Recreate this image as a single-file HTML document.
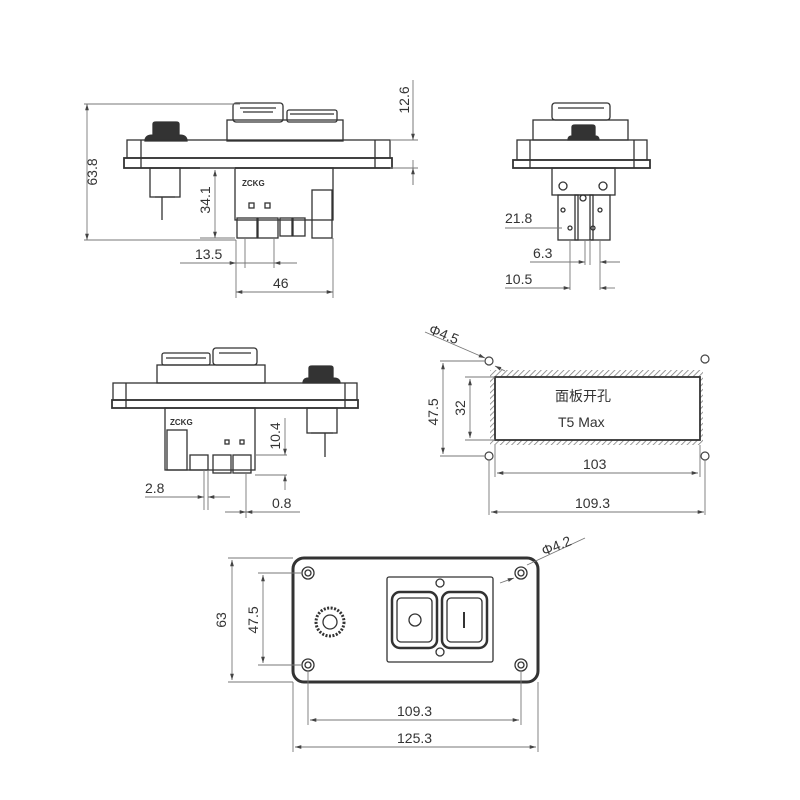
<!DOCTYPE html>
<html><head><meta charset="utf-8"><style>body{margin:0;background:#fff}svg{display:block}text{font-family:"Liberation Sans","Noto Sans CJK SC",sans-serif;fill:#333}</style></head><body>
<svg width="800" height="800" viewBox="0 0 800 800" xmlns="http://www.w3.org/2000/svg">
<defs>
<marker id="a" viewBox="0 0 10 10" refX="10" refY="5" markerWidth="7" markerHeight="7" orient="auto-start-reverse"><path d="M0,2L10,5L0,8z" fill="#444"/></marker>
<pattern id="h" width="4" height="4" patternUnits="userSpaceOnUse" patternTransform="rotate(45)"><line x1="0" y1="0" x2="0" y2="4" stroke="#777" stroke-width="1.5"/></pattern>
</defs>
<g fill="none" stroke="#333" stroke-width="1.3">
<rect x="233" y="103" width="50" height="19" rx="3"/><path d="M240,108h36M243,112h30"/>
<rect x="287" y="110" width="50" height="12" rx="2"/><path d="M290,114h44"/>
<rect x="227" y="120" width="116" height="21"/>
<path d="M145,141q0,-6 8,-6v-11q0,-2 3,-2h20q3,0 3,2v11q8,0 8,6z" fill="#333"/>
<rect x="127" y="140" width="263" height="18"/><rect x="124" y="158" width="268" height="10" stroke-width="1.8"/>
<path d="M141,140v28M375,140v28"/>
<rect x="150" y="168" width="30" height="29"/><path d="M155,197h20M162,197v23"/>
<rect x="235" y="168" width="98" height="52"/>
<rect x="237" y="218" width="20" height="20"/><rect x="258" y="218" width="20" height="20"/><rect x="280" y="218" width="12" height="18"/><rect x="293" y="218" width="12" height="18"/><rect x="312" y="190" width="20" height="48"/>
<rect x="249" y="203" width="5" height="5"/><rect x="265" y="203" width="5" height="5"/>
<rect x="552" y="103" width="58" height="17" rx="3"/><path d="M558,108h46"/>
<rect x="533" y="120" width="95" height="20"/>
<path d="M568,140q0,-4 4,-4v-9q0,-2 3,-2h17q3,0 3,2v9q4,0 4,4z" fill="#333"/>
<rect x="517" y="140" width="130" height="20"/><rect x="513" y="160" width="137" height="8" stroke-width="1.8"/>
<path d="M530,140v28M634,140v28"/>
<rect x="552" y="168" width="63" height="27"/>
<rect x="558" y="195" width="20" height="45"/><rect x="590" y="195" width="20" height="45"/><rect x="575" y="195" width="18" height="45"/>
<circle cx="563" cy="186" r="4"/><circle cx="603" cy="186" r="4"/><circle cx="583" cy="198" r="3"/>
<circle cx="563" cy="210" r="2"/><circle cx="600" cy="210" r="2"/><circle cx="570" cy="228" r="2"/><circle cx="593" cy="228" r="2"/>
<rect x="162" y="353" width="48" height="12" rx="2"/><path d="M166,358h40"/>
<rect x="213" y="348" width="44" height="17" rx="3"/><path d="M219,353h32"/>
<rect x="157" y="365" width="108" height="18"/>
<path d="M303,383q0,-5 6,-5v-10q0,-2 3,-2h18q3,0 3,2v10q7,0 7,5z" fill="#333"/>
<rect x="113" y="383" width="244" height="17"/><rect x="112" y="400" width="246" height="8" stroke-width="1.8"/>
<path d="M126,383v25M345,383v25"/>
<rect x="307" y="408" width="30" height="25"/><path d="M311,433h22M325,433v24"/>
<rect x="165" y="408" width="90" height="62"/>
<rect x="167" y="430" width="20" height="40"/><rect x="190" y="455" width="18" height="15"/><rect x="213" y="455" width="18" height="18"/><rect x="233" y="455" width="18" height="18"/>
<rect x="225" y="440" width="4" height="4"/><rect x="240" y="440" width="4" height="4"/>
<rect x="293" y="558" width="245" height="124" rx="11" stroke-width="3"/>
<circle cx="308" cy="573" r="6"/><circle cx="308" cy="573" r="3"/><circle cx="521" cy="573" r="6"/><circle cx="521" cy="573" r="3"/>
<circle cx="308" cy="665" r="6"/><circle cx="308" cy="665" r="3"/><circle cx="521" cy="665" r="6"/><circle cx="521" cy="665" r="3"/>
<rect x="387" y="577" width="106" height="85" rx="2"/>
<rect x="392" y="592" width="45" height="56" rx="8" stroke-width="2.5"/><rect x="397" y="598" width="35" height="44" rx="4"/>
<circle cx="415" cy="620" r="6"/>
<rect x="442" y="592" width="45" height="56" rx="8" stroke-width="2.5"/><rect x="447" y="598" width="35" height="44" rx="4"/><path d="M464,612v16" stroke-width="2"/>
<circle cx="440" cy="583" r="4"/><circle cx="440" cy="652" r="4"/>
<circle cx="330" cy="622" r="14" stroke-width="3" stroke-dasharray="2 1.5"/><circle cx="330" cy="622" r="7"/>
</g>
<rect x="490" y="370" width="213" height="75" fill="url(#h)"/>
<rect x="495" y="377" width="205" height="63" fill="#fff" stroke="#333" stroke-width="1.8"/>
<g fill="#fff" stroke="#444" stroke-width="1.2"><circle cx="489" cy="361" r="4"/><circle cx="705" cy="359" r="4"/><circle cx="489" cy="456" r="4"/><circle cx="705" cy="456" r="4"/></g>
<g fill="none" stroke="#777" stroke-width="0.9">
<path d="M84,104h156M84,240h152M236,240v58M333,238v60M245,238v30M274,238v30M200,168h35M200,238h35M390,140h28M390,168h28M413,80v60M413,160v25"/>
<path d="M87,104V240" marker-start="url(#a)" marker-end="url(#a)"/>
<path d="M215,170V238" marker-start="url(#a)" marker-end="url(#a)"/>
<path d="M180,263h56" marker-end="url(#a)"/><path d="M297,263h-23" marker-end="url(#a)"/><path d="M236,263h38"/>
<path d="M236,292h97" marker-start="url(#a)" marker-end="url(#a)"/>
<path d="M413,110v30" marker-end="url(#a)"/><path d="M413,185v-17" marker-end="url(#a)"/>
<path d="M505,228h57M570,240v50M585,240v25M590,240v25M600,240v50"/>
<path d="M530,262h55" marker-end="url(#a)"/><path d="M620,262h-20" marker-end="url(#a)"/>
<path d="M505,288h65" marker-end="url(#a)"/><path d="M615,288h-15" marker-end="url(#a)"/>
<path d="M255,455h32M255,475h32M204,470v40M208,470v40M246,473v45"/>
<path d="M285,418v37" marker-end="url(#a)"/><path d="M285,490v-15" marker-end="url(#a)"/>
<path d="M145,497h59" marker-end="url(#a)"/><path d="M230,497h-22" marker-end="url(#a)"/>
<path d="M225,512h21" marker-end="url(#a)"/><path d="M300,512h-54" marker-end="url(#a)"/>
<path d="M425,332l60,26" marker-end="url(#a)"/><path d="M495,366l10,5" marker-start="url(#a)"/>
<path d="M440,361h45M440,456h45M465,377h30M465,440h30M489,460v55M705,460v55M495,445v32M700,445v32"/>
<path d="M443,363V454" marker-start="url(#a)" marker-end="url(#a)"/>
<path d="M470,379V438" marker-start="url(#a)" marker-end="url(#a)"/>
<path d="M497,473H698" marker-start="url(#a)" marker-end="url(#a)"/>
<path d="M491,512H704" marker-start="url(#a)" marker-end="url(#a)"/>
<path d="M228,558h65M258,573h45M258,665h45M228,682h65M293,682v70M308,670v55M521,670v55M538,682v70"/>
<path d="M232,560V680" marker-start="url(#a)" marker-end="url(#a)"/>
<path d="M263,575V663" marker-start="url(#a)" marker-end="url(#a)"/>
<path d="M310,720H519" marker-start="url(#a)" marker-end="url(#a)"/>
<path d="M295,747H536" marker-start="url(#a)" marker-end="url(#a)"/>
<path d="M585,538l-58,27"/><path d="M500,583l14,-5" marker-end="url(#a)"/>
</g>
<g font-size="14">
<text x="195" y="259">13.5</text><text x="273" y="288">46</text>
<text transform="translate(97,172) rotate(-90)" text-anchor="middle">63.8</text>
<text transform="translate(210,200) rotate(-90)" text-anchor="middle">34.1</text>
<text transform="translate(409,100) rotate(-90)" text-anchor="middle">12.6</text>
<text x="505" y="223">21.8</text><text x="533" y="258">6.3</text><text x="505" y="284">10.5</text>
<text transform="translate(280,436) rotate(-90)" text-anchor="middle">10.4</text>
<text x="145" y="493">2.8</text><text x="272" y="508">0.8</text>
<text transform="translate(428,333) rotate(22)">Φ4.5</text>
<text transform="translate(438,412) rotate(-90)" text-anchor="middle">47.5</text>
<text transform="translate(465,408) rotate(-90)" text-anchor="middle">32</text>
<text x="555" y="401">面板开孔</text><text x="558" y="427">T5 Max</text>
<text x="583" y="469">103</text><text x="575" y="508">109.3</text>
<text transform="translate(226,620) rotate(-90)" text-anchor="middle">63</text>
<text transform="translate(258,620) rotate(-90)" text-anchor="middle">47.5</text>
<text x="397" y="716">109.3</text><text x="397" y="743">125.3</text>
<text transform="translate(544,556) rotate(-22)">Φ4.2</text>
</g>
<g font-size="8" font-weight="bold"><text x="242" y="186">ZCKG</text><text x="170" y="425">ZCKG</text></g>
</svg>
</body></html>
